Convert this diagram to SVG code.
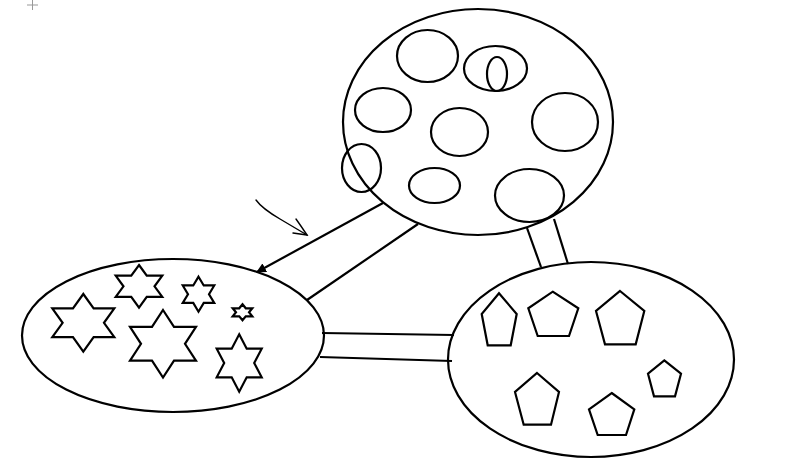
<svg xmlns="http://www.w3.org/2000/svg" xmlns:xlink="http://www.w3.org/1999/xlink" width="787" height="468" viewBox="0 0 787 468">
<style>
.s{fill:none;stroke:#000;stroke-width:2.2;}
.t{fill:none;stroke:#000;stroke-width:1.4;stroke-linecap:round;}
.c{stroke:#000;stroke-width:2.2;fill:none;}
.star{fill:#fff;stroke:#000;stroke-width:2.2;stroke-linejoin:miter;}
</style>
<defs>
<marker id="ah" viewBox="0 0 10 10" refX="9" refY="5" markerWidth="4.5" markerHeight="4.5" orient="auto">
<path d="M0,0 L10,5 L0,10 z" fill="#000"/>
</marker>
<path id="hex" d="M0,-1 L0.2887,-0.5 L0.866,-0.5 L0.5774,0 L0.866,0.5 L0.2887,0.5 L0,1 L-0.2887,0.5 L-0.866,0.5 L-0.5774,0 L-0.866,-0.5 L-0.2887,-0.5 Z" vector-effect="non-scaling-stroke"/>
</defs>
<rect width="787" height="468" fill="#fff"/>
<g id="cursor" stroke="#999" stroke-width="1">
<line x1="27" y1="5" x2="38" y2="5"/>
<line x1="32.5" y1="0" x2="32.5" y2="10"/>
</g>
<g id="connectors">
<line class="c" x1="383" y1="203" x2="257" y2="272" marker-end="url(#ah)"/>
<line class="c" x1="418" y1="224" x2="307" y2="300"/>
<line class="c" x1="527" y1="228" x2="541" y2="267"/>
<line class="c" x1="554" y1="219" x2="568" y2="264"/>
<line class="c" x1="322" y1="333" x2="454" y2="335"/>
<line class="c" x1="320" y1="357" x2="452" y2="361"/>
<g id="hand-arrow">
<path class="t" d="M256,200 C261,207 268,212 280,219 L307,235"/>
<path class="t" d="M296,219 Q301,226 307,235 L293,233"/>
</g>
</g>
<g id="top-node">
<ellipse class="s" cx="478" cy="122" rx="135" ry="113" fill="#fff"/>
<ellipse class="s" cx="427.5" cy="56" rx="30.5" ry="26"/>
<ellipse class="s" cx="495.5" cy="68.5" rx="31.5" ry="22.5"/>
<ellipse class="s" cx="497" cy="74" rx="10" ry="17"/>
<ellipse class="s" cx="383" cy="110" rx="28" ry="22"/>
<ellipse class="s" cx="459.5" cy="132" rx="28.5" ry="24"/>
<ellipse class="s" cx="565" cy="122" rx="33" ry="29"/>
<ellipse class="s" cx="361.5" cy="168" rx="19.5" ry="24"/>
<ellipse class="s" cx="434.5" cy="185.5" rx="25.5" ry="17.5"/>
<ellipse class="s" cx="529.5" cy="195.5" rx="34.5" ry="26.5"/>
</g>
<g id="left-node">
<ellipse class="s" cx="173" cy="335.5" rx="151" ry="76.5" fill="#fff"/>
<use href="#hex" class="star" transform="translate(83.3,322.8) scale(35.8,28.8)"/>
<use href="#hex" class="star" transform="translate(139,286.3) scale(26.9,21.3)"/>
<use href="#hex" class="star" transform="translate(198.5,294.2) scale(18.2,17.5)"/>
<use href="#hex" class="star" transform="translate(242.5,312.3) scale(11.3,8)"/>
<use href="#hex" class="star" transform="translate(163,343.8) scale(38.1,33.8)"/>
<use href="#hex" class="star" transform="translate(239.2,363) scale(26,28.7)"/>
</g>
<g id="right-node">
<ellipse class="s" cx="591" cy="359.5" rx="143" ry="97.5" fill="#fff"/>
<polygon class="s" points="499,293.3 516.7,314 510.7,345.3 487.7,345.3 481.7,314"/>
<polygon class="s" points="552.7,291.7 578.3,308.3 569,336 537.7,336 528.3,308.3"/>
<polygon class="s" points="620,291 644.3,311 635.7,344.3 605,344.3 596,311"/>
<polygon class="s" points="664.3,360.3 681,373.7 675,396.3 654,396.3 648,373.7"/>
<polygon class="s" points="537,373 559,392 551,424.7 523.7,424.7 515,392"/>
<polygon class="s" points="611.7,393 634.3,409.3 626,435 597.7,435 589,409.3"/>
</g>
</svg>
